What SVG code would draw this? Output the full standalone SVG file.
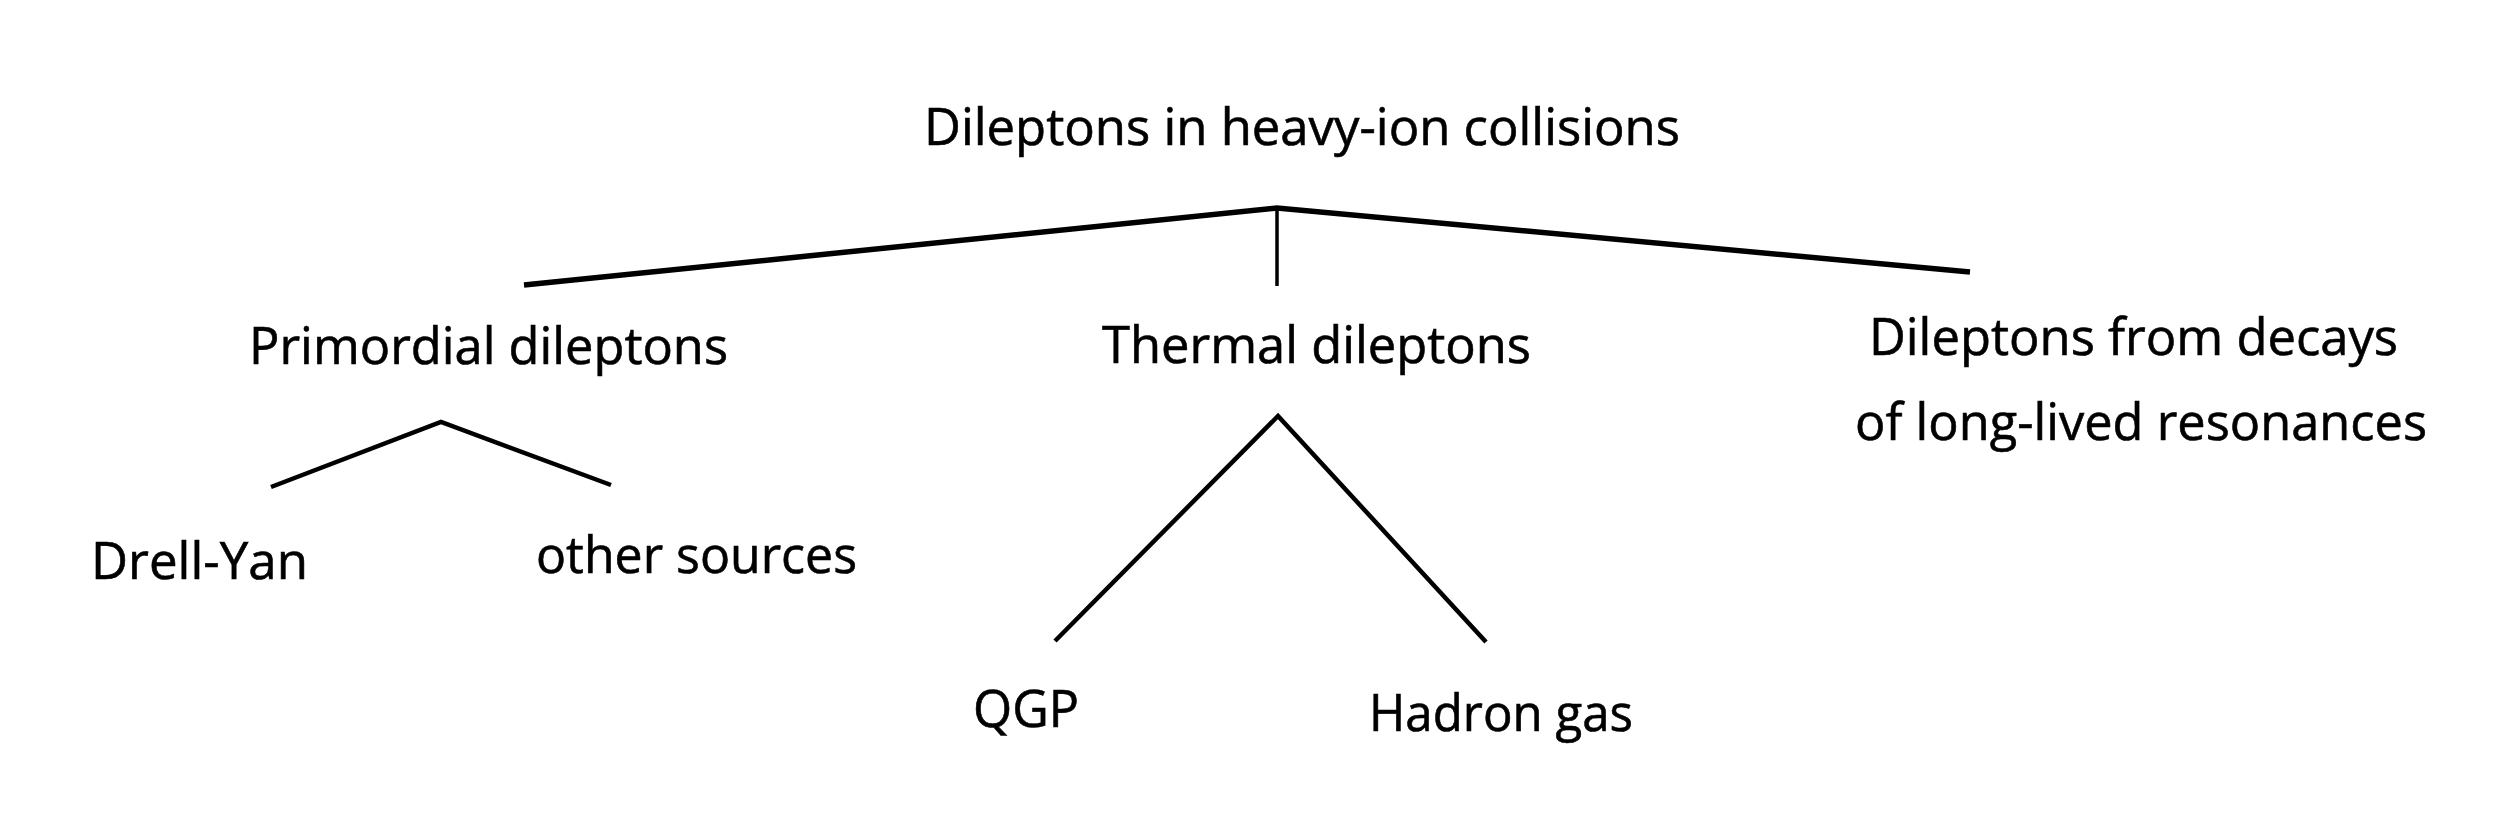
<svg xmlns="http://www.w3.org/2000/svg" width="2512" height="834" viewBox="0 0 2512 834">
<style>
.t{font-family:"Open Sans","Noto Sans","Liberation Sans",sans-serif;font-size:52px;fill:#000;stroke:#000;stroke-width:0.6}
.c{fill:none;stroke:#000;stroke-width:4.5;stroke-linejoin:miter}
.top{fill:none;stroke:#000;stroke-width:5.5;stroke-linejoin:miter}
.v{fill:none;stroke:#000;stroke-width:3.5}
</style>
<rect width="2512" height="834" fill="#fff"/>
<g id="connectors">
<polyline class="top" points="524,285 1277,208 1970,272"/>
<line class="v" x1="1277" y1="208" x2="1277" y2="286"/>
<polyline class="c" points="271,487 441,422 611,485"/>
<polyline class="c" points="1055,641 1278,416 1486,642"/>
</g>
<g id="root"><text class="t" x="924" y="145" textLength="756" lengthAdjust="spacingAndGlyphs">Dileptons in heavy-ion collisions</text></g>
<g id="primordial"><text class="t" x="249" y="364" textLength="479" lengthAdjust="spacingAndGlyphs">Primordial dileptons</text></g>
<g id="thermal"><text class="t" x="1102" y="363" textLength="429" lengthAdjust="spacingAndGlyphs">Thermal dileptons</text></g>
<g id="decays">
<text class="t" x="1869" y="355" textLength="529" lengthAdjust="spacingAndGlyphs">Dileptons from decays</text>
<text class="t" x="1855" y="440" textLength="572" lengthAdjust="spacingAndGlyphs">of long-lived resonances</text>
</g>
<g id="drellyan"><text class="t" x="91" y="579" textLength="217" lengthAdjust="spacingAndGlyphs">Drell-Yan</text></g>
<g id="other"><text class="t" x="536" y="573" textLength="321" lengthAdjust="spacingAndGlyphs">other sources</text></g>
<g id="qgp"><text class="t" x="973" y="727" textLength="106" lengthAdjust="spacingAndGlyphs">QGP</text></g>
<g id="hadron"><text class="t" x="1369" y="731" textLength="264" lengthAdjust="spacingAndGlyphs">Hadron gas</text></g>
</svg>
